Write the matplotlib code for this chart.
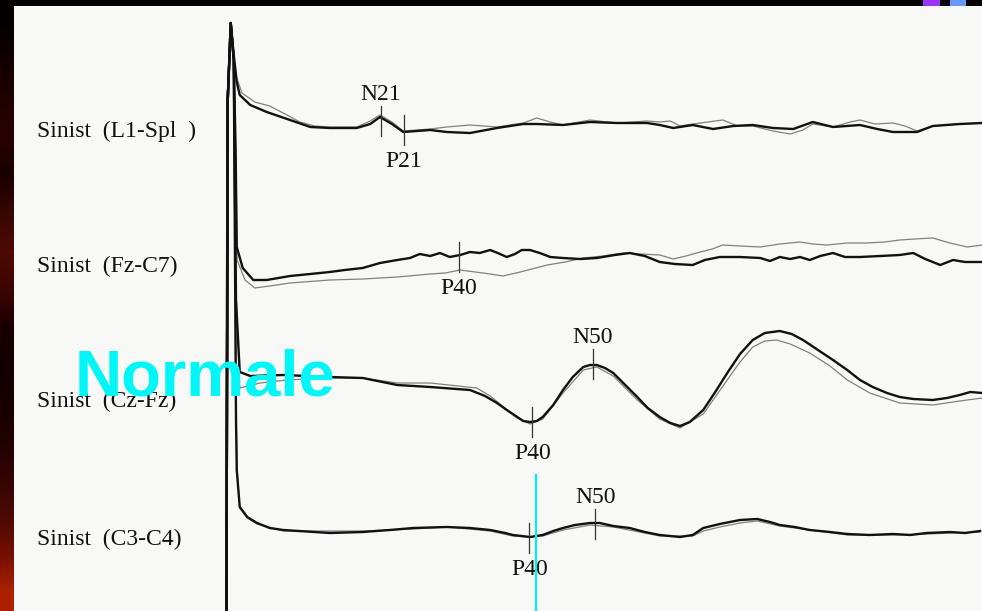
import numpy as np
import matplotlib
matplotlib.use("Agg")
import matplotlib.pyplot as plt
from matplotlib.patches import Rectangle

# ---------------------------------------------------------------
# Somatosensory evoked potentials, left-side stimulation.
# Time in ms after stimulus; amplitude in display units (up = positive),
# each channel drawn around its own baseline.
# Black = run 1, grey = run 2 (replication).
# ---------------------------------------------------------------
W, H = 982, 611
MS_PER_UNIT = 7.5          # horizontal units per ms
X0 = 230                   # stimulus position

channels = ["Sinist  (L1-Spl  )", "Sinist  (Fz-C7)", "Sinist  (Cz-Fz)", "Sinist  (C3-C4)"]
baselines = [130, 265, 378, 532]

# --- L1-Spl -----------------------------------------------------
l1_t_black = [-0.5, -0.3, 0.1, 0.5, 0.9, 1.3, 2.7, 4.9, 8.0, 10.7, 13.3, 16.9, 18.7, 20.0, 21.6, 23.1,
              26.7, 28.9, 32.0, 35.6, 39.1, 40.9, 44.4, 48.0, 51.6, 55.6, 57.3, 59.1, 61.7,
              64.4, 67.1, 69.7, 72.4, 75.1, 77.7, 80.4, 84.0, 86.3, 88.4, 91.6, 93.7, 97.3, 100.3]
l1_black = [-570, 30, 107, 75, 48, 35, 25, 18, 10, 3, 2, 2, 6, 13, 6, -2,
            0, -2, -3, 2, 6, 6, 5, 8, 7, 7, 5, 2, 5,
            1, 4, 5, 2, 1, 8, 3, 5, 1, -2, -2, 4, 6, 7]
l1_t_gray = [-0.6, -0.4, 0.1, 0.5, 0.9, 1.6, 3.3, 5.3, 7.6, 9.3, 11.3, 13.3, 16.9, 18.7, 20.0, 21.6, 23.1,
             26.7, 28.9, 32.0, 35.6, 39.1, 40.9, 42.7, 44.4, 48.0, 51.6, 55.6, 57.3, 58.7,
             60.0, 61.7, 63.7, 65.7, 67.7, 69.7, 72.4, 74.7, 76.4, 77.7, 80.4, 82.7, 84.0,
             86.0, 88.4, 90.0, 91.6, 93.7, 97.3, 100.3]
l1_gray = [-570, 30, 107, 75, 52, 37, 28, 24, 15, 8, 4, 3, 3, 9, 15, 8, -1,
           1, 3, 5, 3, 7, 12, 8, 5, 10, 7, 9, 8, 9,
           4, 6, 8, 10, 4, 4, -1, -4, 0, 6, 3, 8, 10,
           6, 7, 4, -1, 4, 6, 7]

# --- Fz-C7 ------------------------------------------------------
fz_t_black = [-0.5, -0.3, 0.1, 0.5, 0.75, 0.9, 1.7, 3.1, 4.9, 8.0, 10.7, 13.3, 15.3, 17.7, 20.0, 22.3, 24.0,
              25.3, 26.7, 28.0, 29.3, 30.7, 32.0, 33.3, 34.7, 35.7, 36.9, 38.0, 38.9, 40.0,
              41.3, 42.7, 44.4, 46.7, 48.9, 51.3, 53.3, 55.3, 57.3, 59.3, 61.7, 63.3, 65.3,
              68.0, 70.7, 72.0, 73.3, 74.7, 76.0, 77.3, 78.7, 80.4, 82.0, 84.0, 86.7, 89.3,
              91.1, 92.7, 94.7, 96.4, 98.0, 100.3]
fz_black = [-435, 165, 242, 205, 115, 18, -3, -15, -15, -11, -9, -7, -5, -3, 2, 5, 7,
            11, 9, 12, 8, 10, 13, 12, 15, 12, 8, 11, 15, 15,
            12, 8, 7, 6, 7, 10, 12, 9, 3, 1, 0, 5, 8,
            8, 7, 4, 8, 6, 8, 5, 9, 12, 8, 8, 9, 10,
            12, 6, 0, 5, 3, 3]
fz_t_gray = [-0.6, -0.4, 0.1, 0.5, 0.8, 0.95, 2.0, 3.3, 5.3, 8.0, 13.3, 17.7, 22.3, 26.7, 28.7, 30.7, 32.7,
             34.7, 36.4, 38.7, 42.3, 44.7, 47.1, 49.7, 52.4, 54.7, 57.3, 59.1, 60.8, 62.7,
             64.3, 65.7, 68.0, 70.7, 73.3, 76.0, 77.7, 79.6, 82.3, 84.9, 87.3, 89.3, 91.3,
             93.7, 96.0, 98.3, 100.3]
fz_gray = [-435, 165, 242, 205, 100, 5, -15, -23, -21, -18, -15, -14, -12, -9, -8, -5, -7,
           -9, -11, -7, 0, 3, 7, 9, 12, 11, 10, 6, 9, 13,
           16, 20, 19, 18, 21, 23, 21, 20, 22, 22, 23, 25, 26,
           27, 22, 18, 20]

# --- Cz-Fz ------------------------------------------------------
cz_t_black = [-0.5, -0.3, 0.1, 0.5, 0.8, 1.3, 2.7, 7.1, 13.3, 17.7, 22.3, 26.7, 32.0, 34.0, 35.6, 36.9,
              38.3, 39.1, 40.0, 40.9, 41.7, 43.1, 44.4, 45.7, 47.1, 48.0, 48.9, 50.0, 51.1,
              52.7, 54.3, 55.7, 57.3, 58.7, 60.0, 61.3, 63.1, 64.7, 66.3, 68.0, 69.7, 71.3,
              73.3, 74.9, 76.4, 78.4, 80.4, 82.3, 84.0, 85.7, 87.6, 89.3, 91.1, 93.7, 95.6,
              97.3, 98.7, 100.3]
cz_black = [-322, 278, 355, 318, 78, 6, 2, 3, 1, 0, -7, -9, -12, -18, -25, -32,
            -39, -43, -44, -43, -39, -27, -12, 1, 11, 13, 13, 10, 5,
            -7, -19, -30, -39, -45, -48, -44, -32, -14, 5, 24, 38, 45,
            47, 44, 38, 28, 18, 8, -2, -9, -15, -19, -21, -22, -20,
            -17, -14, -15]
cz_t_gray = [-0.6, -0.4, 0.1, 0.5, 0.85, 1.3, 4.0, 7.6, 13.3, 17.7, 22.3, 26.7, 32.9, 34.7, 36.0, 38.3,
             40.0, 41.7, 44.4, 47.1, 48.9, 51.1, 54.3, 57.3, 60.0, 63.1, 66.3, 68.0, 69.7,
             71.3, 72.9, 74.7, 77.3, 80.0, 82.3, 85.3, 89.3, 93.7, 97.3, 100.3]
cz_gray = [-322, 278, 355, 318, 78, -10, -5, -2, 0, 0, -5, -5, -10, -18, -26, -40,
           -46, -41, -15, 8, 11, 2, -22, -41, -50, -36, -2, 16, 31,
           37, 38, 34, 25, 12, -2, -15, -25, -27, -23, -20]

# --- C3-C4 ------------------------------------------------------
c3_t_black = [-0.5, -0.3, 0.1, 0.5, 0.8, 0.9, 1.3, 2.3, 3.6, 5.3, 7.1, 13.3, 17.7, 21.3, 24.4, 28.9,
              32.0, 34.7, 36.7, 37.7, 40.0, 41.7, 43.1, 44.4, 46.0, 48.0, 49.3, 51.1, 53.3,
              55.3, 57.3, 60.0, 61.7, 63.1, 65.3, 68.0, 70.3, 72.0, 73.3, 75.3, 77.3, 80.0,
              82.3, 85.3, 88.4, 90.7, 92.9, 96.0, 98.0, 100.0]
c3_black = [-168, 432, 509, 472, 112, 62, 25, 15, 9, 4, 2, -1, 0, 2, 4, 5,
            4, 2, -1, -3, -5, -3, 1, 4, 7, 9, 9, 6, 4,
            0, -3, -5, -3, 4, 8, 12, 13, 10, 7, 5, 2, 0,
            -2, -3, -2, -3, -1, 0, -1, 1]
c3_t_gray = [-0.6, -0.4, 0.1, 0.5, 0.85, 0.95, 1.3, 2.3, 3.6, 7.1, 13.3, 17.7, 24.4, 28.9, 34.7, 37.7,
             40.0, 41.7, 44.4, 48.0, 51.1, 55.3, 57.3, 61.7, 63.1, 65.3, 68.0, 70.3, 73.3,
             77.3, 82.3, 88.4, 92.9, 100.0]
c3_gray = [-168, 432, 509, 472, 112, 62, 24, 14, 8, 1, 1, 1, 3, 5, 1, -4,
           -5, -4, 2, 7, 5, -1, -4, -4, 1, 5, 9, 11, 6,
           2, -3, -3, -2, 0]

series = [
    (l1_t_black, l1_black, l1_t_gray, l1_gray),
    (fz_t_black, fz_black, fz_t_gray, fz_gray),
    (cz_t_black, cz_black, cz_t_gray, cz_gray),
    (c3_t_black, c3_black, c3_t_gray, c3_gray),
]

# Peak markers: channel index, name, latency (ms), N (above) / P (below)
peak_channel = [0, 0, 1, 2, 2, 3, 3]
peak_name = ["N21", "P21", "P40", "N50", "P40", "N50", "P40"]
peak_latency = [20.1, 23.2, 30.5, 48.4, 40.3, 48.7, 39.9]
peak_center = [121, 130, 257, 364, 422, 524, 538]

# ---------------------------------------------------------------
PAPER = "#f8f8f6"
fig = plt.figure(figsize=(W / 100, H / 100), dpi=100)
fig.patch.set_facecolor(PAPER)

ax = fig.add_axes([0, 0, 1, 1])
ax.set_xlim(-X0 / MS_PER_UNIT, (W - X0) / MS_PER_UNIT)
ax.set_ylim(H, 0)
ax.axis("off")

serif = "Liberation Serif"
for base, (tb, vb, tg, vg) in zip(baselines, series):
    ax.plot(tg, base - np.asarray(vg), color="#808080", lw=0.9, solid_joinstyle="round", zorder=2)
    ax.plot(tb, base - np.asarray(vb), color="#111111", lw=1.7, solid_joinstyle="round", zorder=3)

label_baselines = [137, 272, 407, 545]
for name, yb in zip(channels, label_baselines):
    ax.text((37 - X0) / MS_PER_UNIT, yb, name, family=serif, fontsize=17,
            color="#111111", ha="left", va="baseline")

half = 15
for ch, name, lat, yc in zip(peak_channel, peak_name, peak_latency, peak_center):
    ax.plot([lat, lat], [yc - half, yc + half], color="#333333", lw=0.9, zorder=4)
    if name.startswith("N"):
        ax.text(lat, yc - half - 6, name, family=serif, fontsize=17, color="#111111",
                ha="center", va="baseline")
    else:
        ax.text(lat, yc + half + 22, name, family=serif, fontsize=17, color="#111111",
                ha="center", va="baseline")

# Overlay annotations
ax.text((75 - X0) / MS_PER_UNIT, 395, "Normale", family="Liberation Sans", weight="bold",
        fontsize=47, color="#00f7f7", ha="left", va="baseline", zorder=6)
cursor_ms = (536 - X0) / MS_PER_UNIT
ax.plot([cursor_ms, cursor_ms], [475, H + 5], color="#00f0f0", lw=1.6, zorder=6)

# Frame of the slide: black top strip and dark red left strip
deco = fig.add_axes([0, 0, 1, 1], facecolor="none")
deco.set_xlim(0, W)
deco.set_ylim(H, 0)
deco.axis("off")
deco.add_patch(Rectangle((0, 0), W, 6, color="#050000", lw=0))
left_cols = np.array([
    [0.02, 0.00, 0.00], [0.08, 0.00, 0.00], [0.12, 0.01, 0.00], [0.15, 0.01, 0.00],
    [0.10, 0.00, 0.00], [0.22, 0.03, 0.00], [0.30, 0.04, 0.00], [0.24, 0.02, 0.00],
    [0.10, 0.00, 0.00], [0.07, 0.00, 0.00], [0.09, 0.00, 0.00], [0.12, 0.01, 0.00],
    [0.20, 0.02, 0.00], [0.30, 0.04, 0.00], [0.45, 0.06, 0.00], [0.68, 0.13, 0.00],
])
deco.imshow(left_cols[:, None, :], extent=(0, 14, H, 6), aspect="auto",
            interpolation="bilinear", zorder=5)
deco.add_patch(Rectangle((923, 0), 17, 6, color="#9a33ff", lw=0, zorder=6))
deco.add_patch(Rectangle((950, 0), 16, 6, color="#6699ff", lw=0, zorder=6))

fig.savefig("out.png", dpi=100, facecolor=fig.get_facecolor())
